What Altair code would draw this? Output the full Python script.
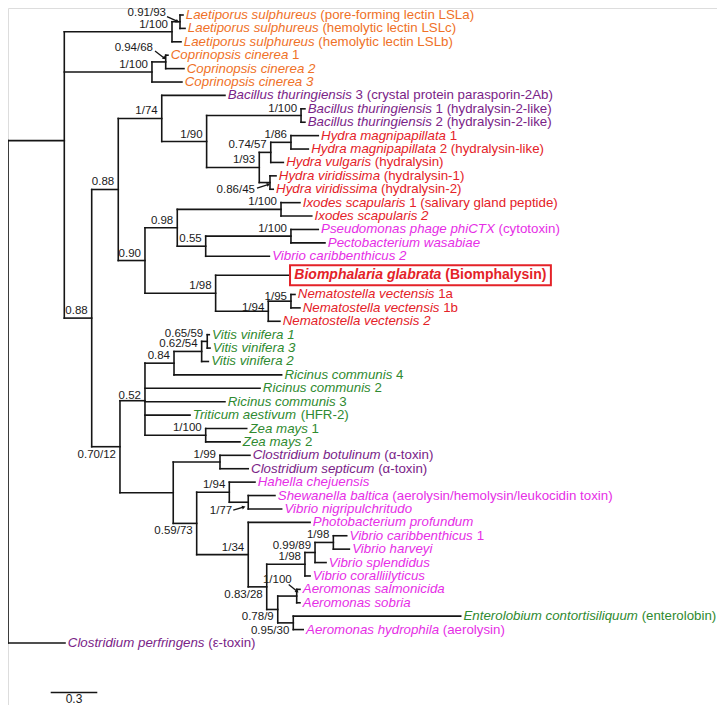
import math
import altair as alt
import pandas as pd

FONT = "Liberation Sans"
PX = 155.3        # pixels per substitution/site (scale bar 0.3 = 46.6 px)
ROW = 13.404      # pixels per tip row
TOP = 15.0        # image y of first tip
W, H = 709, 697
Y0 = -(TOP - 8.0) / ROW
Y1 = Y0 + H / ROW

# ---------------- data: internal nodes ----------------
inner_id = ["R", "N1", "N2", "N3", "N4", "N5", "N6", "N7", "N8", "N9", "N10", "N11", "N11a", "N11c", "N11b",
            "N12", "N13", "NIx", "N13b", "NPP", "N14", "N14b", "N14c", "N15", "N16", "N16a", "NV62", "NV65", "NZm",
            "N17", "NCl", "N18", "N19", "N19b", "N20", "N21", "N22", "N24", "N25", "N23", "NAe", "N26"]
inner_parent = [None, "R", "N1", "N2", "N1", "N4", "N1", "N6", "N7", "N8", "N9", "N9", "N11", "N11a", "N11",
                "N7", "N12", "N13", "N13", "N13b", "N12", "N14", "N14b", "N6", "N15", "N16", "N16a", "NV62", "N16",
                "N15", "N17", "N17", "N18", "N19", "N18", "N20", "N21", "N22", "N24", "N21", "N23", "N23"]
inner_depth = [0.0, 0.3625, 1.056, 1.1075, 0.927, 1.0155, 0.539, 0.710, 0.990, 1.279, 1.887, 1.618, 1.692, 1.822, 1.687,
               0.882, 1.090, 1.758, 1.273, 1.822, 1.337, 1.676, 1.822, 0.721, 0.882, 1.069, 1.247, 1.283, 1.273,
               1.064, 1.365, 1.215, 1.425, 1.547, 1.547, 1.666, 1.912, 1.977, 2.095, 1.737, 1.859, 1.837]
inner_support = ["", "", "1/100", "0.91/93", "1/100", "0.94/68", "0.88", "0.88", "1/74", "1/90", "1/100", "1/93", "0.74/57", "1/86", "0.86/45",
                 "0.90", "0.98", "1/100", "0.55", "1/100", "1/98", "1/94", "1/95", "0.70/12", "0.52", "0.84", "0.62/54", "0.65/59", "1/100",
                 "", "1/99", "0.59/73", "1/94", "1/77", "1/34", "0.83/28", "1/98", "0.99/89", "1/98", "0.78/9", "1/100", "0.95/30"]

# ---------------- data: tips ----------------
leaf_id = ["LSLa", "LSLc", "LSLb", "C1", "C2", "C3", "Bt3", "Bt1", "Bt2", "Hm1", "Hm2", "Hv", "Hvir1", "Hvir2",
           "Ix1", "Ix2", "Pseu", "Pecto", "Vcar2", "Biom", "Nv1a", "Nv1b", "Nv2", "Vv1", "Vv3", "Vv2",
           "Rc4", "Rc2", "Rc3", "Ta", "Zm1", "Zm2", "Cb", "Cs", "Hc", "Sb", "Vn", "Pp", "Vc1", "Vh", "Vs",
           "Vcor", "As", "Asob", "Ec", "Ah", "Cp"]
leaf_parent = ["N3", "N3", "N2", "N5", "N5", "N4", "N8", "N10", "N10", "N11c", "N11c", "N11a", "N11b", "N11b",
               "NIx", "NIx", "NPP", "NPP", "N13b", "N14", "N14c", "N14c", "N14b", "NV65", "NV65", "NV62",
               "N16a", "N16", "N16", "N16", "NZm", "NZm", "NCl", "NCl", "N19", "N19b", "N19b", "N20", "N25", "N25", "N24",
               "N22", "NAe", "NAe", "N26", "N26", "R"]
leaf_depth = [1.127, 1.140, 1.114, 1.030, 1.133, 1.120, 1.397, 1.912, 1.912, 1.998, 1.934, 1.773, 1.726, 1.708,
              1.880, 1.956, 1.998, 2.041, 1.683, 1.816, 1.848, 1.880, 1.751, 1.296, 1.301, 1.290,
              1.762, 1.623, 1.397, 1.172, 1.537, 1.494, 1.558, 1.547, 1.590, 1.719, 1.762, 1.945, 2.181, 2.198, 2.048,
              1.945, 1.880, 1.880, 2.915, 1.901, 0.367]
leaf_name = ["Laetiporus sulphureus", "Laetiporus sulphureus", "Laetiporus sulphureus",
             "Coprinopsis cinerea", "Coprinopsis cinerea 2", "Coprinopsis cinerea 3",
             "Bacillus thuringiensis", "Bacillus thuringiensis", "Bacillus thuringiensis",
             "Hydra magnipapillata", "Hydra magnipapillata", "Hydra vulgaris", "Hydra viridissima", "Hydra viridissima",
             "Ixodes scapularis", "Ixodes scapularis 2", "Pseudomonas phage phiCTX", "Pectobacterium wasabiae",
             "Vibrio caribbenthicus 2", "Biomphalaria glabrata", "Nematostella vectensis", "Nematostella vectensis",
             "Nematostella vectensis 2", "Vitis vinifera 1", "Vitis vinifera 3", "Vitis vinifera 2",
             "Ricinus communis", "Ricinus communis", "Ricinus communis", "Triticum aestivum", "Zea mays", "Zea mays",
             "Clostridium botulinum", "Clostridium septicum", "Hahella chejuensis", "Shewanella baltica",
             "Vibrio nigripulchritudo", "Photobacterium profundum", "Vibrio caribbenthicus", "Vibrio harveyi",
             "Vibrio splendidus", "Vibrio coralliilyticus", "Aeromonas salmonicida", "Aeromonas sobria",
             "Enterolobium contortisiliquum", "Aeromonas hydrophila", "Clostridium perfringens"]
leaf_note = ["(pore-forming lectin LSLa)", "(hemolytic lectin LSLc)", "(hemolytic lectin LSLb)",
             "1", "", "",
             "3 (crystal protein parasporin-2Ab)", "1 (hydralysin-2-like)", "2 (hydralysin-2-like)",
             "1", "2 (hydralysin-like)", "(hydralysin)", "(hydralysin-1)", "(hydralysin-2)",
             "1 (salivary gland peptide)", "", "(cytotoxin)", "",
             "", "(Biomphalysin)", "1a", "1b",
             "", "", "", "",
             "4", "2", "3", "(HFR-2)", "1", "2",
             "(α-toxin)", "(α-toxin)", "", "(aerolysin/hemolysin/leukocidin toxin)",
             "", "", "1", "",
             "", "", "", "",
             "(enterolobin)", "(aerolysin)", "(ε-toxin)"]
leaf_group = ["fungus"] * 6 + ["bact2"] * 3 + ["animal"] * 7 + ["bact"] * 3 + ["animal"] * 4 + ["plant"] * 9 + \
             ["bact2"] * 2 + ["bact"] * 10 + ["plant", "bact", "bact2"]
extra_rows = {"Biom": (0.42, 0.43)}   # extra space before / after a tip (boxed label)
scale_bar_len = 0.3

# ---------------- styles ----------------
group_color = {"fungus": "#EF7127", "bact2": "#7A2387", "animal": "#E42228", "bact": "#E62EE6", "plant": "#2F8A30"}
LINE = "#151515"
above_nodes = ["N2", "N4", "N6", "N7", "N8", "N9", "N10", "N11", "N11a", "N11c", "N12", "N13", "NIx", "N13b",
               "NPP", "N14", "N14b", "N14c", "N16", "N16a", "NV62", "NV65", "NZm", "NCl", "N19", "N20", "N22",
               "N24", "N25"]
below_nodes = ["N15", "N18", "N21", "N23", "N26"]
dy_override = {"N14b": -3.5, "N14c": -4.5, "N16": -4.5, "N6": -7.5}
# arrow labels: text right end (dx, dy), arrow start, arrow end, pixels relative to node
arrow_lab = {
    "N3": ((-14, -8.5), (-13, -5), (-3, -0.5)),
    "N5": ((-12.7, -14), (-10.7, -11), (-1.6, -4)),
    "N11b": ((-15, 7), (-13, 5.5), (-2, 2)),
    "N19b": ((-16, 9), (-15, 8), (-5, 5)),
    "NAe": ((-5, -16), (-8, -11.5), (0, -5)),
}

# ---------------- Arial / Liberation Sans advance widths ----------------
CW = {" ": 278, "!": 278, "(": 333, ")": 333, "-": 333, ".": 278, "/": 278, "α": 578, "ε": 446}
CW.update({d: 556 for d in "0123456789"})
CW.update(zip("ABCDEFGHIJKLMNOPQRSTUVWXYZ",
              [667, 667, 722, 722, 667, 611, 778, 722, 278, 500, 667, 556, 833, 722, 778, 667, 778, 722, 667, 611,
               722, 667, 944, 667, 667, 611]))
CW.update(zip("abcdefghijklmnopqrstuvwxyz",
              [556, 556, 500, 556, 556, 278, 556, 556, 222, 222, 500, 222, 833, 556, 556, 556, 556, 333, 500, 278,
               556, 500, 722, 500, 500, 500]))
CWB = dict(CW)
CWB.update(zip("abcdefghijklmnopqrstuvwxyz",
               [556, 611, 556, 611, 556, 333, 611, 611, 278, 278, 556, 278, 889, 611, 611, 611, 611, 389, 556, 333,
                611, 556, 778, 556, 556, 500]))
CWB.update({"B": 722, "(": 333, ")": 333, " ": 278})


def tw(s, size, bold=False):
    t = CWB if bold else CW
    return sum(t.get(c, 556) for c in s) * size / 1000.0


FS, FS_B, FS_S = 13.3, 14.0, 11.5

# ---------------- layout computation ----------------
rows, r = [], 0.0
for lid in leaf_id:
    pre, post = extra_rows.get(lid, (0, 0))
    r += pre
    rows.append(r)
    r += 1 + post

depth = dict(zip(inner_id, inner_depth))
depth.update(zip(leaf_id, leaf_depth))
parent = dict(zip(inner_id, inner_parent))
parent.update(zip(leaf_id, leaf_parent))
children = {}
for n in inner_id + leaf_id:
    if parent[n]:
        children.setdefault(parent[n], []).append(n)
ypos = dict(zip(leaf_id, rows))


def gety(n):
    # node drawn at the mean height of its children
    if n not in ypos:
        ys = [gety(c) for c in children[n]]
        ypos[n] = sum(ys) / len(ys)
    return ypos[n]


gety("R")

seg = []
for n in inner_id + leaf_id:
    if parent[n]:
        seg.append(dict(x=depth[parent[n]], x2=depth[n], y=ypos[n], y2=ypos[n]))
for n in inner_id:
    ys = [ypos[c] for c in children[n]]
    seg.append(dict(x=depth[n], x2=depth[n], y=min(ys), y2=max(ys)))
seg = pd.DataFrame(seg)

GAP = 2.8
tips, notes = [], []
for lid, nm, nt, g in zip(leaf_id, leaf_name, leaf_note, leaf_group):
    if lid == "Biom":
        continue
    x0 = depth[lid] + GAP / PX
    tips.append(dict(x=x0, y=ypos[lid], text=nm, color=group_color[g]))
    if nt:
        notes.append(dict(x=x0 + (tw(nm + " ", FS)) / PX, y=ypos[lid], text=nt, color=group_color[g]))
tips, notes = pd.DataFrame(tips), pd.DataFrame(notes)

bi = leaf_id.index("Biom")
bx0 = depth["Biom"] + 4.3 / PX
biom_name = pd.DataFrame([dict(x=bx0, y=ypos["Biom"], text=leaf_name[bi])])
biom_note = pd.DataFrame([dict(x=bx0 + tw(leaf_name[bi] + " ", FS_B, True) / PX, y=ypos["Biom"], text=leaf_note[bi])])
bx_end = bx0 + tw(leaf_name[bi] + " " + leaf_note[bi], FS_B, True) / PX
biom_box = pd.DataFrame([dict(x=depth["Biom"], x2=bx_end + 4.5 / PX, y=ypos["Biom"] - 10 / ROW, y2=ypos["Biom"] + 10 / ROW)])

sup = dict(zip(inner_id, inner_support))
labs = []
for n in above_nodes:
    labs.append(dict(x=depth[n] - 4 / PX, y=ypos[n] + dy_override.get(n, -7) / ROW, text=sup[n]))
for n in below_nodes:
    labs.append(dict(x=depth[n] - 4 / PX, y=ypos[n] + dy_override.get(n, 8) / ROW, text=sup[n]))
arr, heads = [], []
for n, ((tdx, tdy), (a1x, a1y), (a2x, a2y)) in arrow_lab.items():
    labs.append(dict(x=depth[n] + tdx / PX, y=ypos[n] + tdy / ROW, text=sup[n]))
    arr.append(dict(x=depth[n] + a1x / PX, x2=depth[n] + a2x / PX, y=ypos[n] + a1y / ROW, y2=ypos[n] + a2y / ROW))
    ang = math.degrees(math.atan2(a2x - a1x, -(a2y - a1y))) % 360
    heads.append(dict(x=depth[n] + a2x / PX, y=ypos[n] + a2y / ROW, ang=ang))
labs, arr, heads = pd.DataFrame(labs), pd.DataFrame(arr), pd.DataFrame(heads)

sb_x0 = (50.7 - 8) / PX
sb_row = (692.5 - TOP) / ROW
sbar = pd.DataFrame([dict(x=sb_x0, x2=sb_x0 + scale_bar_len, y=sb_row, y2=sb_row)])
slab = pd.DataFrame([dict(x=sb_x0 + scale_bar_len / 2, y=sb_row + 6.5 / ROW, text=f"{scale_bar_len:g}")])

# ---------------- chart ----------------
xs = alt.Scale(domain=[0, W / PX], nice=False, zero=False)
ys = alt.Scale(domain=[Y0, Y1], nice=False, zero=False, reverse=True)
X = alt.X("x:Q", scale=xs, axis=None)
Y = alt.Y("y:Q", scale=ys, axis=None)

branches = alt.Chart(seg).mark_rule(color=LINE, strokeWidth=1.6, strokeCap="square").encode(
    x=X, x2="x2:Q", y=Y, y2="y2:Q")
tip_txt = alt.Chart(tips).mark_text(align="left", baseline="middle", font=FONT, fontSize=FS,
                                    fontStyle="italic").encode(
    x=X, y=Y, text="text:N", color=alt.Color("color:N", scale=None))
note_txt = alt.Chart(notes).mark_text(align="left", baseline="middle", font=FONT, fontSize=FS).encode(
    x=X, y=Y, text="text:N", color=alt.Color("color:N", scale=None))
b_name = alt.Chart(biom_name).mark_text(align="left", baseline="middle", font=FONT, fontSize=FS_B,
                                        fontStyle="italic", fontWeight="bold", color=group_color["animal"]).encode(
    x=X, y=Y, text="text:N")
b_note = alt.Chart(biom_note).mark_text(align="left", baseline="middle", font=FONT, fontSize=FS_B,
                                        fontWeight="bold", color=group_color["animal"]).encode(
    x=X, y=Y, text="text:N")
b_box = alt.Chart(biom_box).mark_rect(filled=False, stroke=group_color["animal"], strokeWidth=2).encode(
    x=X, x2="x2:Q", y=Y, y2="y2:Q")
sup_txt = alt.Chart(labs).mark_text(align="right", baseline="middle", font=FONT, fontSize=FS_S,
                                    color="#1a1a1a").encode(x=X, y=Y, text="text:N")
arrows = alt.Chart(arr).mark_rule(color=LINE, strokeWidth=1.3).encode(x=X, x2="x2:Q", y=Y, y2="y2:Q")
arrow_heads = alt.Chart(heads).mark_point(shape="triangle", filled=True, size=16, color=LINE, opacity=1).encode(
    x=X, y=Y, angle=alt.Angle("ang:Q", scale=None))
sb = alt.Chart(sbar).mark_rule(color=LINE, strokeWidth=1.3).encode(x=X, x2="x2:Q", y=Y, y2="y2:Q")
sb_txt = alt.Chart(slab).mark_text(align="center", baseline="middle", font=FONT, fontSize=12,
                                   color="#1a1a1a").encode(x=X, y=Y, text="text:N")

chart = alt.layer(branches, b_box, tip_txt, note_txt, b_name, b_note, sup_txt, arrows, arrow_heads, sb, sb_txt
                  ).properties(width=W, height=H, padding=0,
                               autosize=alt.AutoSizeParams(type="none")
                               ).configure_view(stroke=None).configure(background="white")

chart.save("out.html", embed_options={"renderer": "svg", "actions": False})
